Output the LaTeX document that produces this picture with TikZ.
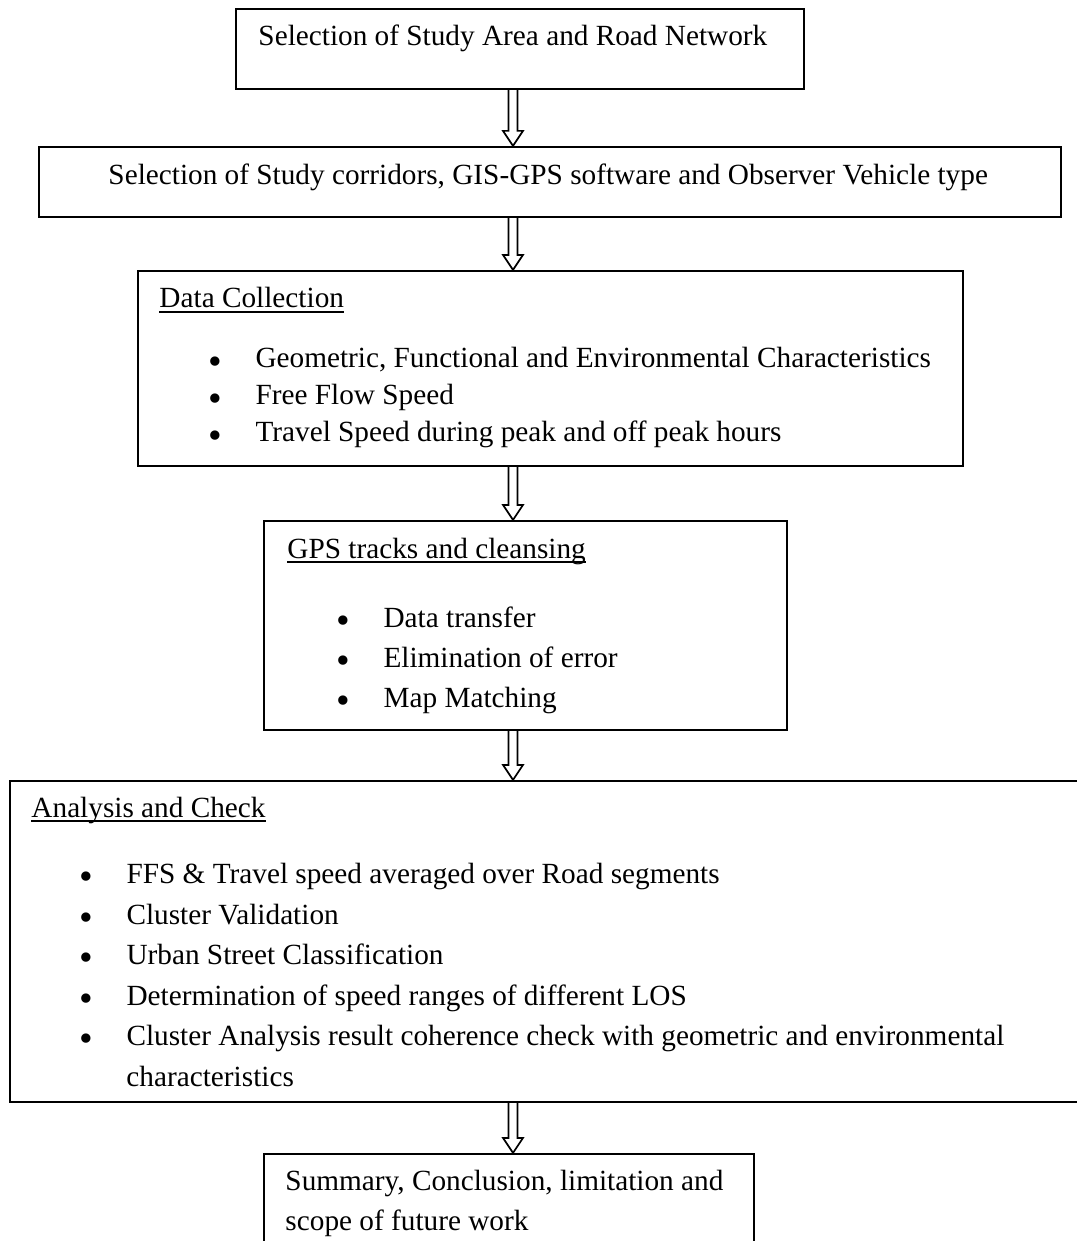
\documentclass[tikz,border=0pt]{standalone}
\usepackage{fontspec}
\setmainfont{Liberation Serif}
\usetikzlibrary{calc}

\newcommand{\hdline}[1]{\setbox0\hbox{#1}\rlap{\rule[-2pt]{\wd0}{0.8pt}}\box0}
\newcommand{\bitem}[1]{\makebox[19.3pt][l]{\raisebox{-2.6pt}{\fontsize{16}{16}\selectfont\textbullet}}#1}
\newcommand{\hollowarrow}[2]{%
\draw[arrowline] ($(#1.south -| axis)+(-4.5,0)$) -- ($(#2.north -| axis)+(-4.5,-15)$) -- ++(-5.5,0) -- (#2.north -| axis) -- ($(#2.north -| axis)+(10,-15)$) -- ++(-5.5,0) -- ($(#1.south -| axis)+(4.5,0)$);}

\tikzset{
  box/.style={draw, line width=0.9pt, rectangle, inner sep=0pt},
  size/.style 2 args={minimum width=#1*0.41pt, minimum height=#2*0.41pt},
  arrowline/.style={line width=0.7pt, line join=miter},
  txt/.style={inner sep=0pt, anchor=base west, font=\fontsize{12}{14}\selectfont},
}

\begin{document}
\begin{tikzpicture}[x=0.41pt, y=-0.41pt]
\useasboundingbox (0,0) rectangle (1077,1241);
\coordinate (axis) at (513,0);

% boxes
\node[box, size={568}{80}] (area) at (520,49) {};
\node[box, size={1022}{70}] (corr) at (550,182) {};
\node[box, size={825}{195}] (data) at (550.5,368.5) {};
\node[box, size={523}{209}] (gps) at (525.5,625.5) {};
\node[box, size={1070}{321}] (anal) at (545,941.5) {};
\node[box, size={490}{110}] (summ) at (509,1209) {};

% texts
\node[txt] (area-t) at (258,46) {Selection of Study Area and Road Network};
\node[txt] (corr-t) at (108,185) {Selection of Study corridors, GIS-GPS software and Observer Vehicle type};

\node[txt] (data-h) at (159,308) {\hdline{Data Collection}};
\foreach \t [count=\i] in {{Geometric, Functional and Environmental Characteristics}, Free Flow Speed, Travel Speed during peak and off peak hours}
  \node[txt] (data-\i) at (208,331+37*\i) {\bitem{\t}};

\node[txt] (gps-h) at (287,558) {\hdline{GPS tracks and cleansing}};
\foreach \t [count=\i] in {Data transfer, Elimination of error, Map Matching}
  \node[txt] (gps-\i) at (336,587+40*\i) {\bitem{\t}};

\node[txt] (anal-h) at (31,817) {\hdline{Analysis and Check}};
\foreach \t [count=\i] in {FFS \& Travel speed averaged over Road segments, Cluster Validation, Urban Street Classification, Determination of speed ranges of different LOS, Cluster Analysis result coherence check with geometric and environmental}
  \node[txt] (anal-\i) at (79,843+40.5*\i) {\bitem{\t}};
\node[txt] (anal-6) at (126,1086) {characteristics};

\node[txt] (summ-1) at (285,1190) {Summary, Conclusion, limitation and};
\node[txt] (summ-2) at (285,1230) {scope of future work};

% arrows
\foreach \a/\b in {area/corr, corr/data, data/gps, gps/anal, anal/summ}
  {\hollowarrow{\a}{\b}}

\end{tikzpicture}
\end{document}
